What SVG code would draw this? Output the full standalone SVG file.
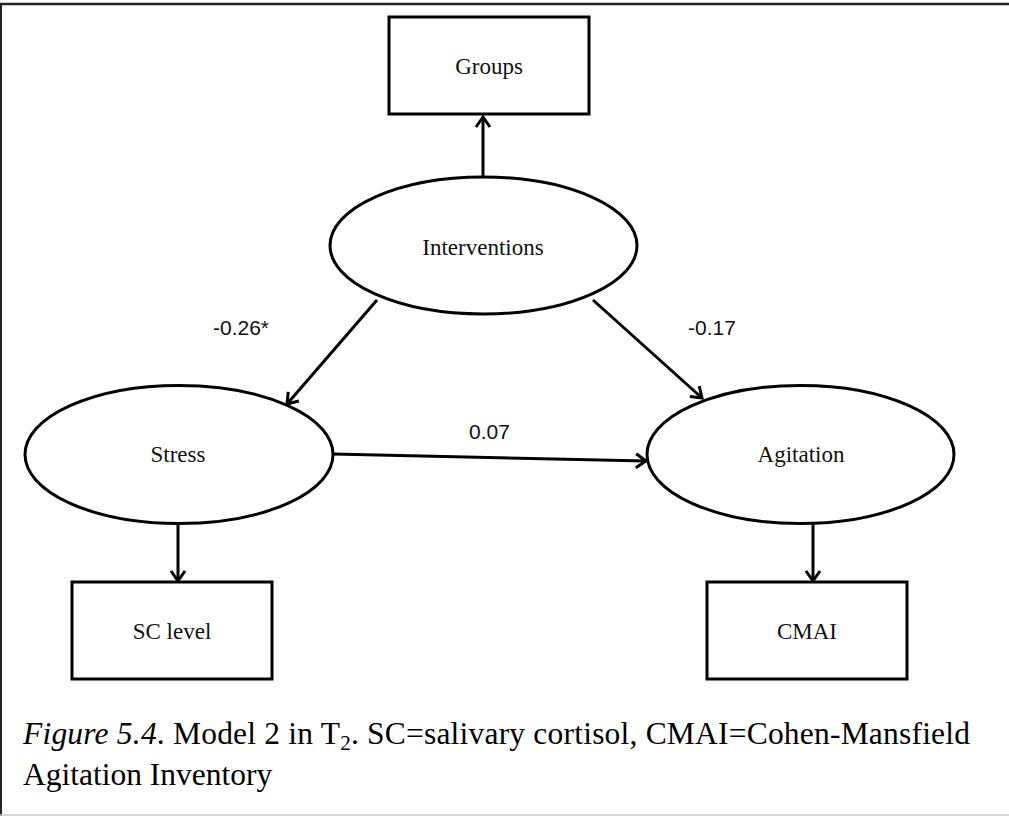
<svg xmlns="http://www.w3.org/2000/svg" width="1009" height="816" viewBox="0 0 1009 816">
<style>
.box{fill:#fff;stroke:#000;stroke-width:3}
.ell{fill:#fff;stroke:#000;stroke-width:3}
.nt{font-family:"Liberation Serif","Times New Roman",serif;font-size:23px;fill:#111;text-anchor:middle}
.lab{font-family:"Liberation Sans",Arial,sans-serif;font-size:21px;fill:#111}
.cap{font-family:"Liberation Serif","Times New Roman",serif;font-size:31.5px;fill:#000}
.con{stroke:#000;stroke-width:3;fill:none;marker-end:url(#ah)}
</style>
<defs>
<marker id="ah" markerUnits="userSpaceOnUse" markerWidth="20" markerHeight="20" viewBox="-12 -10 14 20" refX="0" refY="0" orient="auto">
<path d="M-10,-7 L0,0 L-10,7" fill="none" stroke="#000" stroke-width="3" stroke-linejoin="miter"/>
</marker>
</defs>
<rect width="1009" height="816" fill="#fff"/>
<g id="frame">
<line x1="0" y1="4" x2="1009" y2="4" stroke="#222" stroke-width="2.5"/>
<line x1="1" y1="4" x2="1" y2="816" stroke="#222" stroke-width="2"/>
<line x1="0" y1="815" x2="1009" y2="815" stroke="#ccc" stroke-width="1.5"/>
</g>
<g id="connectors">
<line class="con" x1="483" y1="177" x2="483" y2="117"/>
<line class="con" x1="377" y1="300" x2="287" y2="404"/>
<line class="con" x1="593" y1="300" x2="702" y2="398"/>
<line class="con" x1="333" y1="454" x2="646" y2="461"/>
<line class="con" x1="178" y1="524" x2="178" y2="581"/>
<line class="con" x1="813" y1="524" x2="813" y2="581"/>
</g>
<g id="labels">
<text class="lab" x="213" y="335">-0.26*</text>
<text class="lab" x="469" y="439">0.07</text>
<text class="lab" x="688" y="335">-0.17</text>
</g>
<g id="groups">
<rect class="box" x="389" y="17" width="200" height="97"/>
<text class="nt" x="489" y="74">Groups</text>
</g>
<g id="interventions">
<ellipse class="ell" cx="483.5" cy="245.5" rx="153.5" ry="68.5"/>
<text class="nt" x="483" y="255">Interventions</text>
</g>
<g id="stress">
<ellipse class="ell" cx="179" cy="454.5" rx="154" ry="69"/>
<text class="nt" x="178" y="462">Stress</text>
</g>
<g id="agitation">
<ellipse class="ell" cx="800.5" cy="454.5" rx="153.5" ry="69"/>
<text class="nt" x="801" y="462">Agitation</text>
</g>
<g id="sclevel">
<rect class="box" x="72" y="582" width="200" height="97"/>
<text class="nt" x="172" y="639">SC level</text>
</g>
<g id="cmai">
<rect class="box" x="707" y="582" width="200" height="97"/>
<text class="nt" x="807" y="639">CMAI</text>
</g>
<g id="caption">
<text class="cap" x="23" y="744" textLength="947" lengthAdjust="spacing"><tspan font-style="italic">Figure 5.4</tspan>. Model 2 in T<tspan font-size="21" dy="6">2</tspan><tspan dy="-6">. SC=salivary cortisol, CMAI=Cohen-Mansfield</tspan></text>
<text class="cap" x="23" y="785">Agitation Inventory</text>
</g>
</svg>
